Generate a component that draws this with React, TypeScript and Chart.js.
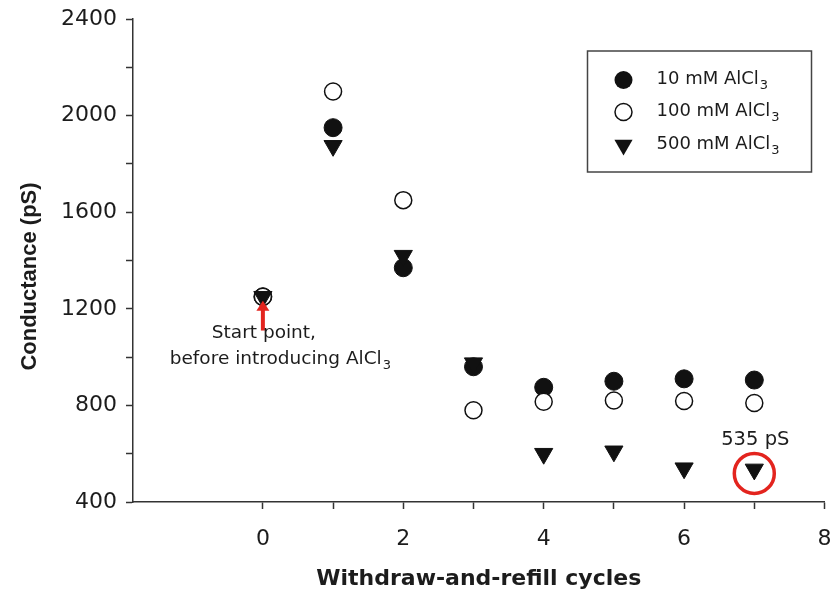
import React, { useEffect, useRef } from 'react';
import { Chart, registerables } from 'chart.js';

Chart.register(...registerables);

// ---- data ----
const cycles = [0, 1, 2, 3, 4, 5, 6, 7];
const series10mM = [1250, 1950, 1370, 960, 875, 900, 910, 905];
const series100mM = [1250, 2100, 1650, 780, 815, 820, 818, 810];
const series500mM = [1250, 1875, 1420, 975, 600, 610, 540, 535];
const seriesNames = ['10 mM AlCl', '100 mM AlCl', '500 mM AlCl'];
const chemSubscript = '3';
const xTickLabels = [0, 2, 4, 6, 8];
const yTickLabels = [400, 800, 1200, 1600, 2000, 2400];
const xRange = [-1.85, 8];
const yRange = [400, 2400];
const xTitle = 'Withdraw-and-refill cycles';
const yTitle = 'Conductance (pS)';
const startNote = ['Start point,', 'before introducing AlCl'];
const startArrow = [1110, 1233]; // tail, tip (pS) at cycle 0
const highlightIndex = 7; // 500 mM series

const TEXT = '#1c1c1c';
const AXIS = '#333333';
const RED = '#e3241e';
const FONT = '"DejaVu Sans", sans-serif';

const isInt = (v: number) => Math.abs(v - Math.round(v)) < 1e-6;

function drawChem(ctx: CanvasRenderingContext2D, main: string, sub: string, x: number, y: number, size: number, align: 'left' | 'center') {
  ctx.font = `${size}px ${FONT}`;
  const wm = ctx.measureText(main).width;
  const subSize = Math.round(size * 0.7);
  ctx.font = `${subSize}px ${FONT}`;
  const ws = ctx.measureText(sub).width;
  const start = align === 'center' ? x - (wm + ws) / 2 : x;
  ctx.textAlign = 'left';
  ctx.textBaseline = 'middle';
  ctx.fillStyle = TEXT;
  ctx.font = `${size}px ${FONT}`;
  ctx.fillText(main, start, y);
  ctx.font = `${subSize}px ${FONT}`;
  ctx.fillText(sub, start + wm + 1, y + size * 0.38);
}

function drawMarker(ctx: CanvasRenderingContext2D, kind: number, x: number, y: number) {
  ctx.save();
  ctx.strokeStyle = '#111';
  if (kind === 0) {
    ctx.fillStyle = '#111';
    ctx.beginPath();
    ctx.arc(x, y, 9, 0, Math.PI * 2);
    ctx.fill();
  } else if (kind === 1) {
    ctx.fillStyle = '#fff';
    ctx.lineWidth = 1.5;
    ctx.beginPath();
    ctx.arc(x, y, 8.5, 0, Math.PI * 2);
    ctx.fill();
    ctx.stroke();
  } else {
    const r = 10.5;
    ctx.fillStyle = '#111';
    ctx.beginPath();
    ctx.moveTo(x, y + r);
    ctx.lineTo(x - r * Math.sin(Math.PI / 3), y - r / 2);
    ctx.lineTo(x + r * Math.sin(Math.PI / 3), y - r / 2);
    ctx.closePath();
    ctx.fill();
  }
  ctx.restore();
}

const overlayPlugin = {
  id: 'overlay',
  afterDraw(chart: any) {
    const { ctx, chartArea, scales } = chart;
    const xs = scales.x;
    const ys = scales.y;

    // y axis title
    ctx.save();
    ctx.translate(36, (chartArea.top + chartArea.bottom) / 2 + 16);
    ctx.rotate(-Math.PI / 2);
    ctx.font = `bold 22px "Liberation Sans", Arial, sans-serif`;
    ctx.fillStyle = TEXT;
    ctx.textAlign = 'center';
    ctx.textBaseline = 'alphabetic';
    ctx.fillText(yTitle, 0, 0);
    ctx.restore();

    // legend box
    ctx.save();
    const bl = chartArea.right - 237;
    const br = chartArea.right - 13;
    const bt = chartArea.top + 32;
    const bb = chartArea.top + 153;
    ctx.strokeStyle = '#444';
    ctx.lineWidth = 1.5;
    ctx.strokeRect(bl, bt, br - bl, bb - bt);
    const rows = [29, 61, 94];
    seriesNames.forEach((name, i) => {
      drawMarker(ctx, i, bl + 36, bt + rows[i]);
      drawChem(ctx, name, chemSubscript, bl + 69, bt + rows[i] - 1, 18, 'left');
    });
    ctx.restore();

    // start-point arrow and note
    ctx.save();
    const px0 = xs.getPixelForValue(cycles[0]);
    const tailY = ys.getPixelForValue(startArrow[0]);
    const tipY = ys.getPixelForValue(startArrow[1]);
    ctx.strokeStyle = RED;
    ctx.fillStyle = RED;
    ctx.lineWidth = 4;
    ctx.beginPath();
    ctx.moveTo(px0, tailY);
    ctx.lineTo(px0, tipY + 8);
    ctx.stroke();
    ctx.beginPath();
    ctx.moveTo(px0, tipY);
    ctx.lineTo(px0 - 6.5, tipY + 10);
    ctx.lineTo(px0 + 6.5, tipY + 10);
    ctx.closePath();
    ctx.fill();
    const p0y = ys.getPixelForValue(series500mM[0]);
    ctx.font = `18.5px ${FONT}`;
    ctx.fillStyle = TEXT;
    ctx.textAlign = 'center';
    ctx.textBaseline = 'middle';
    ctx.fillText(startNote[0], px0 + 1, p0y + 36);
    drawChem(ctx, startNote[1], chemSubscript, px0 + 17, p0y + 62, 18.5, 'center');
    ctx.restore();

    // highlighted minimum
    ctx.save();
    const hx = xs.getPixelForValue(cycles[highlightIndex]);
    const hy = ys.getPixelForValue(series500mM[highlightIndex]);
    ctx.strokeStyle = RED;
    ctx.lineWidth = 3.5;
    ctx.beginPath();
    ctx.arc(hx, hy + 4, 20, 0, Math.PI * 2);
    ctx.stroke();
    ctx.font = `19.5px ${FONT}`;
    ctx.fillStyle = TEXT;
    ctx.textAlign = 'center';
    ctx.textBaseline = 'middle';
    ctx.fillText(`${series500mM[highlightIndex]} pS`, hx + 1, hy - 29);
    ctx.restore();
  },
};

const toPoints = (vals: number[]) => cycles.map((c, i) => ({ x: c, y: vals[i] }));

export default function App() {
  const ref = useRef<HTMLCanvasElement>(null);

  useEffect(() => {
    document.body.style.margin = '0';
    const canvas = ref.current;
    if (!canvas) return;
    const chart = new Chart(canvas, {
      type: 'scatter',
      data: {
        datasets: [
          {
            label: seriesNames[0] + chemSubscript,
            data: toPoints(series10mM),
            pointStyle: 'circle',
            pointRadius: 9,
            pointBackgroundColor: '#111',
            pointBorderColor: '#111',
            pointBorderWidth: 1,
            order: 3,
          },
          {
            label: seriesNames[1] + chemSubscript,
            data: toPoints(series100mM),
            pointStyle: 'circle',
            pointRadius: 8.5,
            pointBackgroundColor: '#ffffff',
            pointBorderColor: '#111',
            pointBorderWidth: 1.5,
            order: 2,
          },
          {
            label: seriesNames[2] + chemSubscript,
            data: toPoints(series500mM),
            pointStyle: 'triangle',
            pointRotation: 180,
            pointRadius: 10.5,
            pointBackgroundColor: '#111',
            pointBorderColor: '#111',
            pointBorderWidth: 1,
            order: 1,
          },
        ] as any,
      },
      options: {
        responsive: false,
        animation: false,
        devicePixelRatio: 1,
        layout: { padding: { left: 0, right: 11, top: 19, bottom: 0 } },
        plugins: {
          legend: { display: false },
          tooltip: { enabled: false },
        },
        scales: {
          x: {
            type: 'linear',
            min: xRange[0],
            max: xRange[1],
            afterBuildTicks: (s: any) => {
              s.ticks = s.ticks.filter((t: any) => isInt(t.value));
            },
            afterFit: (s: any) => {
              s.height = 101;
              s.paddingLeft = 0;
              s.paddingRight = 0;
            },
            ticks: {
              stepSize: 1,
              autoSkip: false,
              maxRotation: 0,
              maxTicksLimit: 30,
              padding: 17,
              color: TEXT,
              font: { family: FONT, size: 22 },
              callback: (v: any) => (xTickLabels.includes(Math.round(Number(v))) && isInt(Number(v)) ? String(Math.round(Number(v))) : ''),
            },
            grid: {
              drawOnChartArea: false,
              drawTicks: true,
              tickLength: 7,
              tickColor: AXIS,
              tickWidth: 1.5,
            },
            border: { display: true, color: AXIS, width: 1.5 },
            title: {
              display: true,
              text: xTitle,
              color: TEXT,
              font: { family: FONT, size: 22, weight: 'bold' },
              padding: { top: 0, bottom: 11 },
            },
          },
          y: {
            type: 'linear',
            min: yRange[0],
            max: yRange[1],
            afterBuildTicks: (s: any) => {
              s.ticks = s.ticks.filter((t: any) => isInt(t.value));
            },
            afterFit: (s: any) => {
              s.width = 133;
              s.paddingTop = 0;
              s.paddingBottom = 0;
            },
            ticks: {
              stepSize: 200,
              autoSkip: false,
              maxTicksLimit: 30,
              padding: 9,
              color: TEXT,
              font: { family: FONT, size: 22 },
              callback: (v: any) => (yTickLabels.includes(Number(v)) ? String(v) : ''),
            },
            grid: {
              drawOnChartArea: false,
              drawTicks: true,
              tickLength: 7,
              tickColor: AXIS,
              tickWidth: 1.5,
            },
            border: { display: true, color: AXIS, width: 1.5 },
            title: { display: false },
          },
        },
      } as any,
      plugins: [overlayPlugin],
    });
    return () => chart.destroy();
  }, []);

  return (
    <canvas
      ref={ref}
      width={836}
      height={603}
      style={{ display: 'block', width: 836, height: 603 }}
    />
  );
}
